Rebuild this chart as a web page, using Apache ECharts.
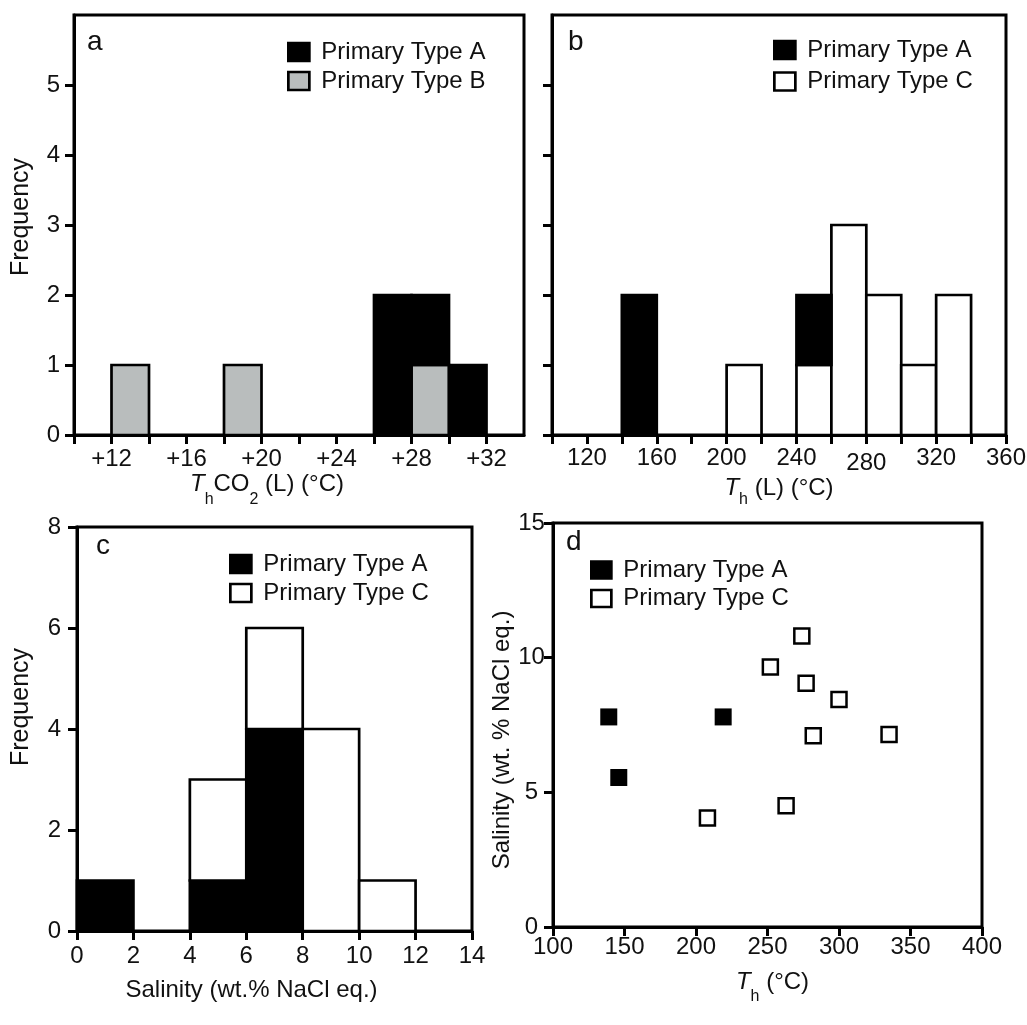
<!DOCTYPE html>
<html>
<head>
<meta charset="utf-8">
<title>Fluid inclusion histograms</title>
<script src="https://cdn.jsdelivr.net/npm/echarts@6/dist/echarts.min.js"></script>
<style>
  html, body { margin: 0; padding: 0; background: #fff; }
  #chart { width: 1027px; height: 1025px; }
</style>
</head>
<body>
<div id="chart"></div>
<script>
// (a) ThCO2 (L), 2 degree bins
const co2BinStart = [10, 12, 14, 16, 18, 20, 22, 24, 26, 28, 30, 32];
const co2TypeA = [0, 0, 0, 0, 0, 0, 0, 0, 2, 1, 1, 0];
const co2TypeB = [0, 1, 0, 0, 1, 0, 0, 0, 0, 1, 0, 0];
const co2Ticks = [10, 12, 14, 16, 18, 20, 22, 24, 26, 28, 30, 32];
const co2Labels = [12, 16, 20, 24, 28, 32];

// (b) Th (L), 20 degree bins
const thBinStart = [100, 120, 140, 160, 180, 200, 220, 240, 260, 280, 300, 320, 340];
const thTypeA = [0, 0, 2, 0, 0, 0, 0, 1, 0, 0, 0, 0, 0];
const thTypeC = [0, 0, 0, 0, 0, 1, 0, 1, 3, 2, 1, 2, 0];
const thTicks = [100, 120, 140, 160, 180, 200, 220, 240, 260, 280, 300, 320, 340, 360];
const thLabels = [120, 160, 200, 240, 280, 320, 360];

const freqTicks = [0, 1, 2, 3, 4, 5];

// (c) salinity, 2 wt% bins
const salBinStart = [0, 2, 4, 6, 8, 10, 12];
const salTypeA = [1, 0, 1, 4, 0, 0, 0];
const salTypeC = [0, 0, 2, 2, 4, 1, 0];
const salTicks = [0, 2, 4, 6, 8, 10, 12, 14];
const salFreqTicks = [0, 2, 4, 6, 8];

// (d) Th vs salinity
const scatterA = [[139, 7.8], [146, 5.55], [219, 7.8]];
const scatterC = [[274, 10.8], [252, 9.65], [277, 9.05], [300, 8.45], [282, 7.1], [335, 7.15], [263, 4.5], [208, 4.05]];
const thdTicks = [100, 150, 200, 250, 300, 350, 400];
const salYTicks = [0, 5, 10, 15];

const FONT = 'Liberation Sans, Arial, Helvetica, sans-serif';
const LINE = 3;
const BLACK = '#000';
const GRAY = '#b9bdbd';
const WHITE = '#fff';

// stacked histogram: lower counts sit on the axis, upper counts on top of them
function stackRects(bins, width, lower, upper) {
  const low = [], up = [];
  bins.forEach((b, i) => {
    if (lower[i] > 0) low.push([b, b + width, 0, lower[i]]);
    if (upper[i] > 0) up.push([b, b + width, lower[i], lower[i] + upper[i]]);
  });
  return [low, up];
}

function rectRenderer(color) {
  return function (params, api) {
    const p0 = api.coord([api.value(0), api.value(3)]);
    const p1 = api.coord([api.value(1), api.value(2)]);
    return {
      type: 'rect',
      shape: { x: p0[0], y: p0[1], width: p1[0] - p0[0], height: p1[1] - p0[1] },
      style: { fill: color, stroke: BLACK, lineWidth: 2.7 }
    };
  };
}

function histSeries(name, grid, color, data) {
  return {
    type: 'custom', name, xAxisIndex: grid, yAxisIndex: grid,
    renderItem: rectRenderer(color),
    encode: { x: [0, 1], y: [2, 3] },
    itemStyle: { color },
    data
  };
}

function axis(grid, min, max, ticks, labels, margin, extra) {
  return Object.assign({
    type: 'value', gridIndex: grid, min, max,
    axisLine: { show: true, onZero: false, lineStyle: { color: BLACK, width: LINE } },
    axisTick: { show: true, length: 9, customValues: ticks, lineStyle: { color: BLACK, width: LINE } },
    axisLabel: {
      show: labels !== null, customValues: labels || [], margin,
      color: '#111', fontSize: 24, fontFamily: FONT
    },
    splitLine: { show: false }
  }, extra || {});
}

function nameRich(drop) {
  return {
    it: { fontStyle: 'italic', fontSize: 24, lineHeight: 24, verticalAlign: 'top', color: '#111', fontFamily: FONT },
    n: { fontSize: 24, lineHeight: 24, verticalAlign: 'top', color: '#111', fontFamily: FONT },
    s: { fontSize: 16, lineHeight: 16, verticalAlign: 'top', padding: [drop, 0, 0, 0], color: '#111', fontFamily: FONT }
  };
}

function legendAt(left, top, gap, w, h, names, fills) {
  return {
    left, top, orient: 'vertical', padding: 0, itemGap: gap,
    itemWidth: w, itemHeight: h, selectedMode: false,
    textStyle: { fontSize: 24, lineHeight: 24, color: '#111', fontFamily: FONT, padding: [0, 0, 0, 7] },
    data: names.map((n, i) => ({
      name: n, icon: 'rect',
      itemStyle: { color: fills[i], borderColor: BLACK, borderWidth: 2.7 }
    }))
  };
}

const [aLow, aUp] = stackRects(co2BinStart, 2, co2TypeB, co2TypeA);
const [bLow, bUp] = stackRects(thBinStart, 20, thTypeC, thTypeA);
const [cLow, cUp] = stackRects(salBinStart, 2, salTypeA, salTypeC);

const gridBase = { show: true, borderColor: BLACK, borderWidth: LINE, backgroundColor: 'transparent', containLabel: false, outerBoundsMode: 'none' };

const option = {
  animation: false,
  textStyle: { fontFamily: FONT },
  grid: [
    Object.assign({ left: 74, top: 15, width: 450, height: 420 }, gridBase),
    Object.assign({ left: 552, top: 15, width: 454, height: 420 }, gridBase),
    Object.assign({ left: 77, top: 527, width: 395, height: 404 }, gridBase),
    Object.assign({ left: 553, top: 523, width: 429, height: 404 }, gridBase)
  ],
  title: [
    { text: 'a', left: 87, top: 28 },
    { text: 'b', left: 568, top: 28 },
    { text: 'c', left: 96, top: 532 },
    { text: 'd', left: 566, top: 528 }
  ].map(t => Object.assign(t, { padding: 0, textStyle: { fontSize: 28, fontWeight: 'normal', color: '#111', fontFamily: FONT } })),
  legend: [
    legendAt(287, 40, 5, 21, 18, ['Primary Type A', 'Primary Type B'], [BLACK, GRAY]),
    legendAt(773, 38, 7.5, 21, 18, ['Primary Type A', 'Primary Type C'], [BLACK, WHITE]),
    legendAt(229, 552, 5, 21, 18, ['Primary Type A', 'Primary Type C'], [BLACK, WHITE]),
    legendAt(590, 558, 4.5, 20, 17, ['Primary Type A', 'Primary Type C'], [BLACK, WHITE])
  ],
  xAxis: [
    axis(0, 10, 34, co2Ticks, co2Labels, 12, {
      name: '{it|T}{s|h}{n|CO}{s|2}{n| (L) (°C)}', nameLocation: 'middle', nameGap: 29,
      nameTextStyle: { rich: nameRich(20), padding: [0, 64, 0, 0] }
    }),
    axis(1, 100, 360, thTicks, thLabels, 11, {
      name: '{it|T}{s|h}{n| (L) (°C)}', nameLocation: 'middle', nameGap: 39,
      nameTextStyle: { rich: nameRich(16) }
    }),
    axis(2, 0, 14, salTicks, salTicks, 13, {
      name: 'Salinity (wt.% NaCl eq.)', nameLocation: 'middle', nameGap: 47,
      nameTextStyle: { fontSize: 24, color: '#111', fontFamily: FONT, padding: [0, 46, 0, 0] }
    }),
    axis(3, 100, 400, thdTicks, thdTicks, 8, {
      name: '{it|T}{s|h}{n| (°C)}', nameLocation: 'middle', nameGap: 43,
      nameTextStyle: { rich: nameRich(19), padding: [0, 0, 0, 10] }
    })
  ],
  yAxis: [
    axis(0, 0, 6, freqTicks, freqTicks, 14, {
      name: 'Frequency', nameLocation: 'middle', nameGap: 40,
      nameTextStyle: { fontSize: 25, color: '#111', fontFamily: FONT, padding: [0, 0, 0, 16] }
    }),
    axis(1, 0, 6, freqTicks, null, 15),
    axis(2, 0, 8, salFreqTicks, salFreqTicks, 16, {
      name: 'Frequency', nameLocation: 'middle', nameGap: 43,
      nameTextStyle: { fontSize: 25, color: '#111', fontFamily: FONT, padding: [0, 0, 0, 44] }
    }),
    axis(3, 0, 15, salYTicks, salYTicks, 21.5, {
      name: 'Salinity (wt. % NaCl eq.)', nameLocation: 'middle', nameGap: 39,
      nameTextStyle: { fontSize: 24, color: '#111', fontFamily: FONT, padding: [0, 30, 0, 0] }
    })
  ],
  series: [
    histSeries('Primary Type B', 0, GRAY, aLow),
    histSeries('Primary Type A', 0, BLACK, aUp),
    histSeries('Primary Type C', 1, WHITE, bLow),
    histSeries('Primary Type A', 1, BLACK, bUp),
    histSeries('Primary Type A', 2, BLACK, cLow),
    histSeries('Primary Type C', 2, WHITE, cUp),
    {
      type: 'scatter', name: 'Primary Type A', xAxisIndex: 3, yAxisIndex: 3,
      symbol: 'rect', symbolSize: 17,
      itemStyle: { color: BLACK, opacity: 1 },
      data: scatterA
    },
    {
      type: 'scatter', name: 'Primary Type C', xAxisIndex: 3, yAxisIndex: 3,
      symbol: 'rect', symbolSize: 15,
      itemStyle: { color: WHITE, borderColor: BLACK, borderWidth: 2.5, opacity: 1 },
      data: scatterC
    }
  ]
};

// y labels of panel d are centred under each other, not right aligned
option.yAxis[3].axisLabel.align = 'center';
// the 280 label sits a little lower in the original
option.xAxis[1].axisLabel.formatter = v => (v === 280 ? '{lo|280}' : String(v));
option.xAxis[1].axisLabel.rich = { lo: { fontSize: 24, color: '#111', fontFamily: FONT, padding: [5, 0, 0, 0] } };
option.xAxis[0].axisLabel.formatter = v => '+' + v;

const chart = echarts.init(document.getElementById('chart'), null, { renderer: 'canvas' });
chart.setOption(option);
</script>
</body>
</html>
